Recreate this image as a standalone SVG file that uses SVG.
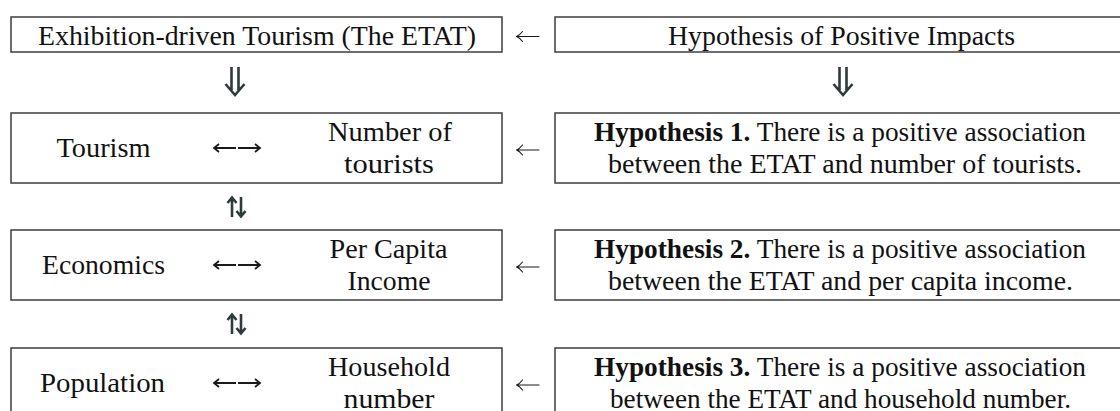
<svg xmlns="http://www.w3.org/2000/svg" width="1120" height="411" viewBox="0 0 1120 411">
<style>
  .box { fill: #ffffff; stroke: #3c3c3c; stroke-width: 1.5; }
  .t { font-family: 'Liberation Serif', 'Times New Roman', serif; font-size: 27px; fill: #111111; text-anchor: middle; }
  .b { font-weight: bold; }
  .thin { fill: none; stroke: #1a1a1a; stroke-width: 1.1; stroke-linecap: round; stroke-linejoin: round; }
  .mid { fill: none; stroke: #1a1a1a; stroke-width: 1.8; stroke-linecap: butt; stroke-linejoin: miter; }
  .bold { fill: none; stroke: #2f3a3a; stroke-width: 2.6; stroke-linecap: butt; stroke-linejoin: miter; }
</style>
<rect width="1120" height="411" fill="#ffffff"/>

<g id="etat">
  <rect class="box" x="11" y="17" width="491" height="35"/>
  <text class="t" x="257" y="44.5" textLength="438" lengthAdjust="spacingAndGlyphs">Exhibition-driven Tourism (The ETAT)</text>
</g>
<g id="hyp-positive">
  <rect class="box" x="555" y="17" width="600" height="35"/>
  <text class="t" x="841.5" y="44.5" textLength="347" lengthAdjust="spacingAndGlyphs">Hypothesis of Positive Impacts</text>
</g>

<g id="tourism">
  <rect class="box" x="11" y="113" width="491" height="70"/>
  <text class="t" x="103.5" y="157" textLength="94" lengthAdjust="spacingAndGlyphs">Tourism</text>
  <text class="t" x="390" y="141" textLength="124" lengthAdjust="spacingAndGlyphs">Number of</text>
  <text class="t" x="389" y="173" textLength="90" lengthAdjust="spacingAndGlyphs">tourists</text>
</g>
<g id="hyp1">
  <rect class="box" x="555" y="113" width="600" height="70"/>
  <text class="t" x="840" y="141" textLength="492" lengthAdjust="spacingAndGlyphs"><tspan class="b">Hypothesis 1.</tspan> There is a positive association</text>
  <text class="t" x="845" y="173" textLength="474" lengthAdjust="spacingAndGlyphs">between the ETAT and number of tourists.</text>
</g>

<g id="economics">
  <rect class="box" x="11" y="230" width="491" height="70"/>
  <text class="t" x="103.5" y="274" textLength="123" lengthAdjust="spacingAndGlyphs">Economics</text>
  <text class="t" x="388.5" y="258" textLength="118" lengthAdjust="spacingAndGlyphs">Per Capita</text>
  <text class="t" x="389" y="290" textLength="83" lengthAdjust="spacingAndGlyphs">Income</text>
</g>
<g id="hyp2">
  <rect class="box" x="555" y="230" width="600" height="70"/>
  <text class="t" x="840" y="258" textLength="492" lengthAdjust="spacingAndGlyphs"><tspan class="b">Hypothesis 2.</tspan> There is a positive association</text>
  <text class="t" x="840.5" y="290" textLength="465" lengthAdjust="spacingAndGlyphs">between the ETAT and per capita income.</text>
</g>

<g id="population">
  <rect class="box" x="11" y="348" width="491" height="70"/>
  <text class="t" x="102.5" y="392" textLength="125" lengthAdjust="spacingAndGlyphs">Population</text>
  <text class="t" x="389" y="376" textLength="122" lengthAdjust="spacingAndGlyphs">Household</text>
  <text class="t" x="389" y="408" textLength="91" lengthAdjust="spacingAndGlyphs">number</text>
</g>
<g id="hyp3">
  <rect class="box" x="555" y="348" width="600" height="70"/>
  <text class="t" x="840" y="376" textLength="492" lengthAdjust="spacingAndGlyphs"><tspan class="b">Hypothesis 3.</tspan> There is a positive association</text>
  <text class="t" x="840.5" y="408" textLength="461" lengthAdjust="spacingAndGlyphs">between the ETAT and household number.</text>
</g>

<g id="connectors">
  <path class="thin" d="M539 36.5 H516.5 M522.5 31.5 Q519.5 35.5 516.5 36.5 Q519.5 37.5 522.5 41.5"/>
  <path class="thin" d="M539 150 H516.5 M522.5 145 Q519.5 149 516.5 150 Q519.5 151 522.5 155"/>
  <path class="thin" d="M539 267 H516.5 M522.5 262 Q519.5 266 516.5 267 Q519.5 268 522.5 272"/>
  <path class="thin" d="M539 385 H516.5 M522.5 380 Q519.5 384 516.5 385 Q519.5 386 522.5 390"/>

  <path class="bold" d="M231.5 67 V90 M238.5 67 V90 M225.5 84 L235 95 L244.5 84"/>
  <path class="bold" d="M839.5 67 V90 M846.5 67 V90 M833.5 84 L843 95 L852.5 84"/>

  <path class="bold" d="M232 198 V217 M227.5 203 L232 197.5 L236.5 203 M241 197 V216.5 M236.5 211 L241 216.5 L245.5 211"/>
  <path class="bold" d="M232 315 V334 M227.5 320 L232 314.5 L236.5 320 M241 314 V333.5 M236.5 328 L241 333.5 L245.5 328"/>

  <path class="mid" d="M214 148 H236 M219 144 L214 148 L219 152 M238 148 H260 M255 144 L260 148 L255 152"/>
  <path class="mid" d="M214 265 H236 M219 261 L214 265 L219 269 M238 265 H260 M255 261 L260 265 L255 269"/>
  <path class="mid" d="M214 383 H236 M219 379 L214 383 L219 387 M238 383 H260 M255 379 L260 383 L255 387"/>
</g>
</svg>
